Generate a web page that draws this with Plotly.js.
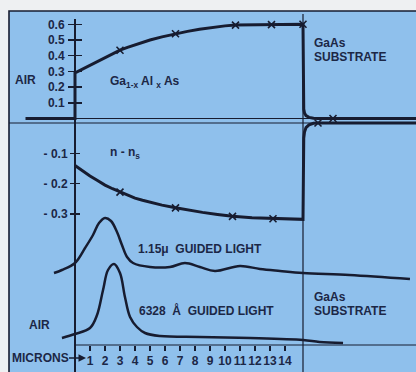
<!DOCTYPE html>
<html>
<head>
<meta charset="utf-8">
<script src="https://cdn.plot.ly/plotly-3.0.1.min.js"></script>
<style>html,body{margin:0;padding:0;background:#eef0f2;}#chart{width:416px;height:372px;}</style>
</head>
<body>
<div id="chart"></div>
<script>
// ---- data ----
// Al fraction profile (upper panel), x in microns
const alX = [-3.3, 0, 0, 0.5, 1, 1.5, 2, 2.5, 3, 3.5, 4, 4.5, 5, 5.8, 6.7, 7.5, 8.3, 9.2, 10, 10.7, 11.8, 13.1, 14.2, 15.2, 15.25, 15.3, 15.4, 15.6, 15.9, 16.2, 22.8];
const alY = [0, 0, 0.29, 0.315, 0.34, 0.365, 0.39, 0.413, 0.435, 0.453, 0.47, 0.486, 0.50, 0.52, 0.54, 0.555, 0.568, 0.58, 0.59, 0.595, 0.597, 0.598, 0.599, 0.60, 0.06, 0.035, 0.018, 0.007, 0.001, 0, 0];
const alMarkX = [3.0, 6.7, 10.7, 13.1, 15.2, 17.2];
const alMarkY = [0.435, 0.54, 0.595, 0.598, 0.60, 0];
// refractive index difference n - n_s (middle panel)
const nX = [0, 0.5, 1, 1.5, 2, 2.5, 3, 3.5, 4, 4.5, 5, 5.8, 6.7, 7.6, 8.5, 9.5, 10.5, 11.8, 13.2, 14.2, 15.2, 15.25, 15.3, 15.4, 15.6, 15.9, 16.2, 22.8];
const nY = [-0.14, -0.158, -0.175, -0.19, -0.205, -0.217, -0.228, -0.238, -0.248, -0.255, -0.262, -0.271, -0.28, -0.288, -0.295, -0.302, -0.308, -0.313, -0.316, -0.317, -0.318, -0.05, -0.03, -0.015, -0.006, -0.001, 0, 0];
const nMarkX = [3.0, 6.7, 10.5, 13.2, 16.2];
const nMarkY = [-0.228, -0.28, -0.308, -0.316, 0];
// guided light intensity profiles (arbitrary units, offset as drawn)
const ir115X = [-1.4, -0.87, 0, 0.67, 1.2, 1.6, 2.0, 2.4, 2.8, 3.13, 3.47, 3.87, 5.0, 6.33, 7.33, 8.33, 9.33, 11.0, 12.33, 13.67, 15.2, 18.3, 22.33];
const ir115Y = [0.72, 0.75, 0.82, 0.97, 1.10, 1.22, 1.27, 1.24, 1.13, 1.00, 0.88, 0.82, 0.78, 0.78, 0.82, 0.78, 0.74, 0.79, 0.76, 0.74, 0.72, 0.70, 0.66];
const red6328X = [-0.87, 0, 1.0, 1.47, 1.87, 2.2, 2.6, 3.0, 3.33, 3.67, 4.13, 4.67, 5.67, 8.33, 11.67, 15.2, 16.3, 17.87];
const red6328Y = [0.07, 0.11, 0.17, 0.30, 0.55, 0.75, 0.81, 0.72, 0.48, 0.28, 0.18, 0.12, 0.09, 0.08, 0.07, 0.05, 0.03, 0.02];
// ticks
const alTicks = [0.1, 0.2, 0.3, 0.4, 0.5, 0.6];
const alTickText = ['0.1', '0.2', '0.3', '0.4', '0.5', '0.6'];
const nTicks = [-0.1, -0.2, -0.3];
const nTickText = ['- 0.1', '- 0.2', '- 0.3'];
const micronTicks = [1,2,3,4,5,6,7,8,9,10,11,12,13,14];
const micronText = micronTicks.map(String);
const INTERFACE = 15.2;

// ---- layout geometry ----
const W = 416, H = 372;
const X0PX = 75, XS = 15;
const xr = [-X0PX / XS, (W - X0PX) / XS];
function yr(zeroPx, scale) { return [(zeroPx - H) / scale, zeroPx / scale]; }
const px = v => v / W;
const py = v => 1 - v / H;

const ink = '#171c30';
const txt = '#1c2746';
const blue = '#8fc0ec';
const FONT = 'Liberation Sans, Arial, sans-serif';
const tf = {family: FONT, size: 12, color: txt, weight: 'bold'};
const S = '\u00a0';

const traces = [
  {x: alX, y: alY, yaxis: 'y', mode: 'lines', line: {color: ink, width: 3}, hoverinfo: 'skip'},
  {x: alMarkX, y: alMarkY, yaxis: 'y', mode: 'markers', marker: {symbol: 'x-thin', size: 7, color: ink, line: {color: ink, width: 1.6}}, hoverinfo: 'skip'},
  {x: nX, y: nY, yaxis: 'y2', mode: 'lines', line: {color: ink, width: 3}, hoverinfo: 'skip'},
  {x: nMarkX, y: nMarkY, yaxis: 'y2', mode: 'markers', marker: {symbol: 'x-thin', size: 7, color: ink, line: {color: ink, width: 1.6}}, hoverinfo: 'skip'},
  {x: ir115X, y: ir115Y, yaxis: 'y3', mode: 'lines', line: {color: ink, width: 2.5, shape: 'spline', smoothing: 1}, hoverinfo: 'skip'},
  {x: red6328X, y: red6328Y, yaxis: 'y3', mode: 'lines', line: {color: ink, width: 2.5, shape: 'spline', smoothing: 1}, hoverinfo: 'skip'}
];

const baseY = {showgrid: false, zeroline: false, showline: false, fixedrange: true};
const layout = {
  width: W, height: H,
  margin: {l: 0, r: 0, t: 0, b: 0, pad: 0},
  paper_bgcolor: '#eef0f2',
  plot_bgcolor: 'rgba(0,0,0,0)',
  showlegend: false,
  xaxis: {domain: [0, 1], range: xr, anchor: 'free', position: py(345), side: 'bottom',
          tickmode: 'array', tickvals: micronTicks, ticktext: micronText, tickangle: 0,
          ticks: 'outside', ticklen: 5, tickwidth: 1.5, tickcolor: ink,
          showgrid: false, zeroline: false, showline: false, fixedrange: true,
          tickfont: tf},
  // crossing ticks: the axis sits to the right of the x=0 line so its ticks straddle it
  yaxis: Object.assign({}, baseY, {domain: [0, 1], range: yr(118.5, 157), anchor: 'free', position: px(X0PX + 7),
          tickmode: 'array', tickvals: alTicks, ticktext: alTickText, ticklabelstandoff: 1,
          ticks: 'outside', ticklen: 14, tickwidth: 1.5, tickcolor: ink, tickfont: tf}),
  yaxis2: Object.assign({}, baseY, {overlaying: 'y', range: yr(123, 303), anchor: 'free', position: px(X0PX + 5),
          tickmode: 'array', tickvals: nTicks, ticktext: nTickText,
          ticks: 'outside', ticklen: 10, tickwidth: 1.5, tickcolor: ink, tickfont: tf}),
  yaxis3: Object.assign({}, baseY, {overlaying: 'y', range: yr(345, 100), visible: false}),
  shapes: [
    {type: 'rect', layer: 'below', xref: 'paper', yref: 'paper', x0: px(9), x1: 1.05, y0: -0.05, y1: py(11),
     fillcolor: blue, line: {color: ink, width: 1.6}},
    {type: 'line', layer: 'below', xref: 'x', yref: 'y', x0: 0, x1: xr[1], y0: 0, y1: 0, line: {color: ink, width: 1}},
    {type: 'line', layer: 'below', xref: 'paper', yref: 'y2', x0: px(9), x1: 1, y0: 0, y1: 0, line: {color: ink, width: 1.2}},
    {type: 'line', layer: 'below', xref: 'x', yref: 'paper', x0: 0, x1: 0, y0: 0, y1: py(19), line: {color: ink, width: 2}},
    {type: 'line', layer: 'below', xref: 'x', yref: 'paper', x0: INTERFACE, x1: INTERFACE, y0: 0, y1: py(14), line: {color: ink, width: 1.2}},
    {type: 'line', layer: 'below', xref: 'x', yref: 'paper', x0: 0, x1: xr[1], y0: py(345), y1: py(345), line: {color: ink, width: 1.2}}
  ],
  annotations: [
    {text: 'AIR', xref: 'paper', yref: 'paper', x: px(25), y: py(80), xanchor: 'center', yanchor: 'middle', showarrow: false, font: tf},
    {text: 'Ga<sub>1-x</sub> Al <sub>x</sub> As', xref: 'paper', yref: 'paper', x: px(108), y: py(82), xanchor: 'left', yanchor: 'middle', showarrow: false, font: tf},
    {text: 'GaAs', xref: 'paper', yref: 'paper', x: px(312), y: py(43), xanchor: 'left', yanchor: 'middle', showarrow: false, font: tf},
    {text: 'SUBSTRATE', xref: 'paper', yref: 'paper', x: px(312), y: py(57), xanchor: 'left', yanchor: 'middle', showarrow: false, font: tf},
    {text: 'n - n<sub>s</sub>', xref: 'paper', yref: 'paper', x: px(108), y: py(153), xanchor: 'left', yanchor: 'middle', showarrow: false, font: tf},
    {text: '1.15\u03bc' + S + S + 'GUIDED' + S + 'LIGHT', xref: 'paper', yref: 'paper', x: px(136), y: py(249), xanchor: 'left', yanchor: 'middle', showarrow: false, font: tf},
    {text: '6328' + S + S + '\u00c5' + S + S + 'GUIDED' + S + 'LIGHT', xref: 'paper', yref: 'paper', x: px(137), y: py(310), xanchor: 'left', yanchor: 'middle', showarrow: false, font: tf},
    {text: 'GaAs', xref: 'paper', yref: 'paper', x: px(312), y: py(297), xanchor: 'left', yanchor: 'middle', showarrow: false, font: tf},
    {text: 'SUBSTRATE', xref: 'paper', yref: 'paper', x: px(312), y: py(311), xanchor: 'left', yanchor: 'middle', showarrow: false, font: tf},
    {text: 'AIR', xref: 'paper', yref: 'paper', x: px(39), y: py(325), xanchor: 'center', yanchor: 'middle', showarrow: false, font: tf},
    {text: 'MICRONS', xref: 'paper', yref: 'paper', x: px(86), y: py(358), ax: -46, ay: 0,
     showarrow: true, arrowhead: 2, arrowsize: 1, arrowwidth: 1.5, arrowcolor: ink, standoff: 0, startstandoff: 0, font: tf, borderpad: 0}
  ]
};

Plotly.newPlot('chart', traces, layout, {staticPlot: true, displayModeBar: false});
</script>
</body>
</html>
